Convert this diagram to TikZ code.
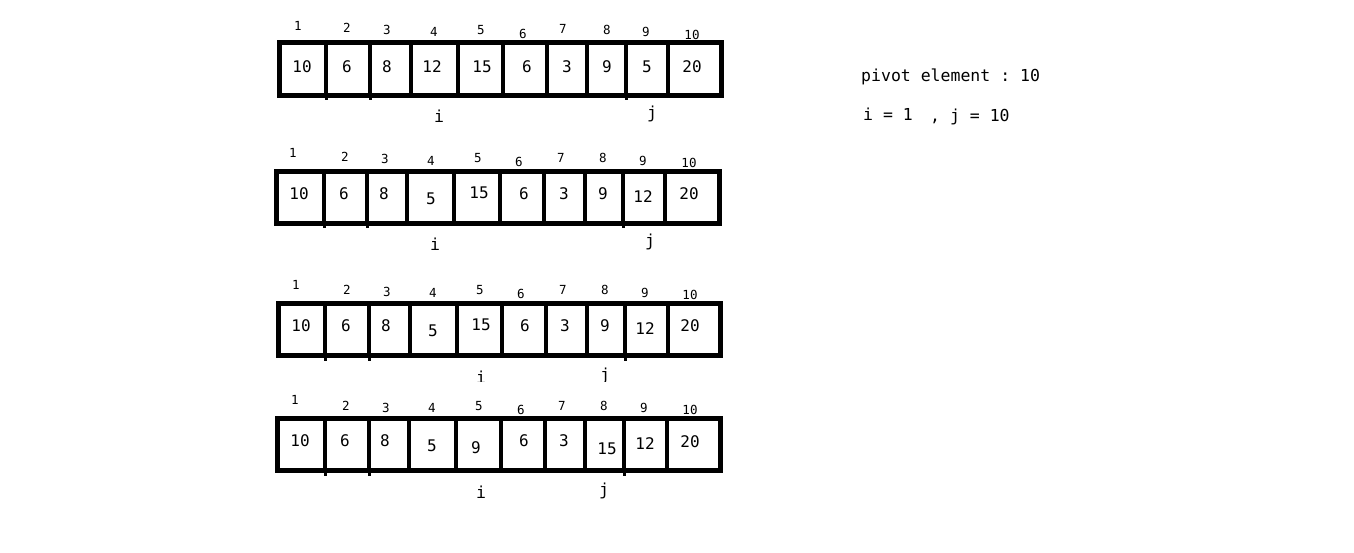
\documentclass[tikz,border=0pt]{standalone}
\usepackage{fontspec}
\setmonofont{DejaVu Sans Mono}
\begin{document}
\begin{tikzpicture}[x=1pt,y=-1pt,
  cellbox/.style={draw=black,line width=5pt},
  divline/.style={draw=black,line width=4.5pt},
  val/.style={font=\ttfamily\fontsize{16}{16}\selectfont,inner sep=0pt},
  idx/.style={font=\ttfamily\fontsize{12.5}{12.5}\selectfont,inner sep=0pt},
  ptr/.style={font=\ttfamily\fontsize{16.5}{16.5}\selectfont,inner sep=0pt},
  note/.style={font=\ttfamily\fontsize{16.5}{16.5}\selectfont,inner sep=0pt,anchor=west},
  tick/.style={fill=black}]
\useasboundingbox (0,0) rectangle (1354,553);
\fill[white] (0,0) rectangle (1354,553);

% ---------- Row 1 ----------
\draw[cellbox] (279.5,42.5) rectangle (721.5,95.5);
\foreach \d in {326,370,411,458,503,547,587,626,668}
  \draw[divline] (\d,42.5) -- (\d,95.5);
\foreach \d in {326,370,626}
  \fill[tick] (\d-1.5,95.5) rectangle (\d+1.5,100.5);
\foreach \x/\y/\t [count=\k] in {298/26/1,347/28/2,387/30/3,434/32/4,481/30/5,523/34/6,563/29/7,607/30/8,646/32/9,692/35/10}
  \node[idx] (ra\k) at (\x,\y) {\t};
\foreach \x/\y/\t [count=\k] in {302/67/10,347/67/6,387/67/8,432/67/12,482/67/15,527/67/6,567/67/3,607/67/9,647/67/5,692/67/20}
  \node[val] (va\k) at (\x,\y) {\t};
\node[ptr] (ia) at (439,116) {i};
\node[ptr] (ja) at (652,114) {j};

% ---------- Row 2 ----------
\draw[cellbox] (276.5,171.5) rectangle (719.5,223.5);
\foreach \d in {324,367,407,454,500,544,585,623,665}
  \draw[divline] (\d,171.5) -- (\d,223.5);
\foreach \d in {324,367,623}
  \fill[tick] (\d-1.5,223.5) rectangle (\d+1.5,228.5);
\foreach \x/\y/\t [count=\k] in {293/153/1,345/157/2,385/159/3,431/161/4,478/158/5,519/162/6,561/158/7,603/158/8,643/161/9,689/163/10}
  \node[idx] (rb\k) at (\x,\y) {\t};
\foreach \x/\y/\t [count=\k] in {299/194/10,344/194/6,384/194/8,431/199/5,479/193/15,524/194/6,564/194/3,603/194/9,643/197/12,689/194/20}
  \node[val] (vb\k) at (\x,\y) {\t};
\node[ptr] (ib) at (435,244) {i};
\node[ptr] (jb) at (650,242) {j};

% ---------- Row 3 ----------
\draw[cellbox] (278.5,303.5) rectangle (720.5,355.5);
\foreach \d in {325,369,410,457,502,546,587,625,668}
  \draw[divline] (\d,303.5) -- (\d,355.5);
\foreach \d in {325,369,625}
  \fill[tick] (\d-1.5,355.5) rectangle (\d+1.5,360.5);
\foreach \x/\y/\t [count=\k] in {296/285/1,347/290/2,387/292/3,433/293/4,480/290/5,521/294/6,563/290/7,605/290/8,645/293/9,690/295/10}
  \node[idx] (rc\k) at (\x,\y) {\t};
\foreach \x/\y/\t [count=\k] in {301/326/10,346/326/6,386/326/8,433/331/5,481/325/15,525/326/6,565/326/3,605/326/9,645/329/12,690/326/20}
  \node[val] (vc\k) at (\x,\y) {\t};
\begin{scope}
  \clip (440,360) rectangle (660,381.5);
  \node[ptr] (ic) at (481,377) {i};
  \node[ptr] (jc) at (605,375.5) {j};
\end{scope}

% ---------- Row 4 ----------
\draw[cellbox] (277.5,418.5) rectangle (720.5,470.5);
\foreach \d in {325,369,409,456,501,545,585,624,667}
  \draw[divline] (\d,418.5) -- (\d,470.5);
\foreach \d in {325,369,624}
  \fill[tick] (\d-1.5,470.5) rectangle (\d+1.5,475.5);
\foreach \x/\y/\t [count=\k] in {295/400/1,346/406/2,386/408/3,432/408/4,479/406/5,521/410/6,562/406/7,604/406/8,644/408/9,690/410/10}
  \node[idx] (rd\k) at (\x,\y) {\t};
\foreach \x/\y/\t [count=\k] in {300/441/10,345/441/6,385/441/8,432/446/5,476/448/9,524/441/6,564/441/3,607/449/15,645/444/12,690/442/20}
  \node[val] (vd\k) at (\x,\y) {\t};
\node[ptr] (id) at (481,492) {i};
\node[ptr] (jd) at (604,491) {j};

% ---------- Notes ----------
\node[note] (pivot) at (861,77) {pivot element : 10};
\node[note] (iinit) at (863,114) {i = 1};
\node[note] (jinit) at (930,117) {, j = 10};
\end{tikzpicture}
\end{document}
